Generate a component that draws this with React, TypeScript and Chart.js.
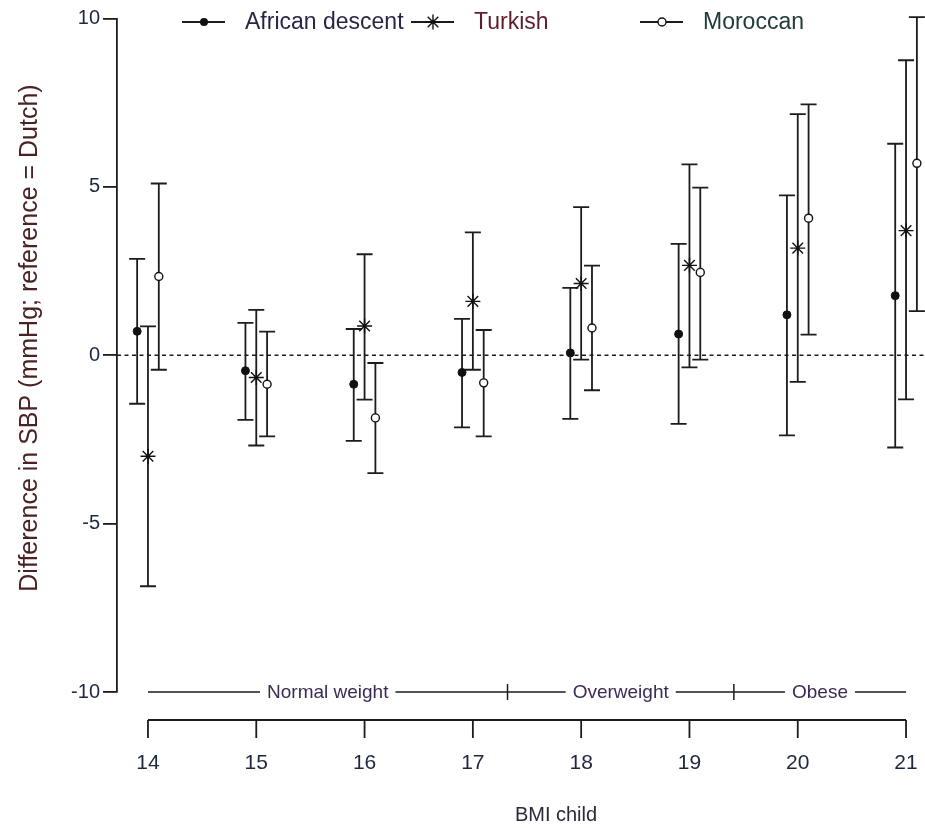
import { useEffect, useRef } from "react";
import { Chart, registerables } from "chart.js";

Chart.register(...registerables);

// ---- data ----
const bmi = [14, 15, 16, 17, 18, 19, 20, 21];
const groupNames = ["African descent", "Turkish", "Moroccan"];
const africanEst = [0.71, -0.46, -0.86, -0.51, 0.07, 0.63, 1.2, 1.77];
const africanLow = [-1.44, -1.92, -2.54, -2.14, -1.89, -2.04, -2.38, -2.74];
const africanHigh = [2.86, 0.96, 0.78, 1.08, 2.0, 3.31, 4.75, 6.28];
const turkishEst = [-3.0, -0.66, 0.87, 1.6, 2.13, 2.67, 3.18, 3.7];
const turkishLow = [-6.86, -2.68, -1.32, -0.43, -0.13, -0.36, -0.79, -1.31];
const turkishHigh = [0.86, 1.35, 3.0, 3.65, 4.4, 5.67, 7.16, 8.76];
const moroccanEst = [2.34, -0.86, -1.86, -0.82, 0.81, 2.46, 4.07, 5.7];
const moroccanLow = [-0.43, -2.41, -3.5, -2.41, -1.04, -0.13, 0.61, 1.31];
const moroccanHigh = [5.1, 0.7, -0.23, 0.75, 2.66, 4.98, 7.45, 10.04];
const dodge = [-0.1, 0, 0.1];
const yTicks = [-10, -5, 0, 5, 10];
const xTicks = [14, 15, 16, 17, 18, 19, 20, 21];
const bandLabels = ["Normal weight", "Overweight", "Obese"];
const bandEdges = [14, 17.32, 19.41, 21];
const xTitle = "BMI child";
const yTitle = "Difference in SBP (mmHg; reference = Dutch)";

const FONT = "'Liberation Sans', Arial, sans-serif";
const INK = "#1c1c1c";

const estimates = [africanEst, turkishEst, moroccanEst];
const lows = [africanLow, turkishLow, moroccanLow];
const highs = [africanHigh, turkishHigh, moroccanHigh];
const legendColors = ["#2c2446", "#5c1f2c", "#213a3c"];

function drawMarker(ctx: CanvasRenderingContext2D, kind: number, x: number, y: number) {
  ctx.save();
  ctx.strokeStyle = "#111";
  ctx.lineWidth = 1.4;
  if (kind === 0) {
    ctx.fillStyle = "#111";
    ctx.beginPath();
    ctx.arc(x, y, 4, 0, Math.PI * 2);
    ctx.fill();
  } else if (kind === 1) {
    const r = 7.5;
    ctx.beginPath();
    ctx.moveTo(x - r, y); ctx.lineTo(x + r, y);
    ctx.moveTo(x, y - r); ctx.lineTo(x, y + r);
    const d = r * Math.SQRT1_2;
    ctx.moveTo(x - d, y - d); ctx.lineTo(x + d, y + d);
    ctx.moveTo(x - d, y + d); ctx.lineTo(x + d, y - d);
    ctx.stroke();
  } else {
    ctx.fillStyle = "#fff";
    ctx.beginPath();
    ctx.arc(x, y, 4, 0, Math.PI * 2);
    ctx.fill();
    ctx.stroke();
  }
  ctx.restore();
}

const rPlot = {
  id: "rplot",
  beforeDatasetsDraw(chart: any) {
    const { ctx, chartArea } = chart;
    const x = chart.scales.x;
    const y = chart.scales.y;
    ctx.save();
    // reference zero line
    ctx.strokeStyle = INK;
    ctx.lineWidth = 1.6;
    ctx.setLineDash([4, 3.5]);
    const y0 = y.getPixelForValue(0);
    ctx.beginPath();
    ctx.moveTo(chartArea.left, y0);
    ctx.lineTo(chartArea.right, y0);
    ctx.stroke();
    ctx.setLineDash([]);

    // error bars
    ctx.lineWidth = 1.8;
    ctx.strokeStyle = INK;
    for (let s = 0; s < 3; s++) {
      for (let i = 0; i < bmi.length; i++) {
        const px = x.getPixelForValue(bmi[i] + dodge[s]);
        const pl = y.getPixelForValue(lows[s][i]);
        const ph = y.getPixelForValue(highs[s][i]);
        ctx.beginPath();
        ctx.moveTo(px, pl);
        ctx.lineTo(px, ph);
        ctx.moveTo(px - 8, pl);
        ctx.lineTo(px + 8, pl);
        ctx.moveTo(px - 8, ph);
        ctx.lineTo(px + 8, ph);
        ctx.stroke();
      }
    }

    // R-style x axis (line only over tick range)
    const ax = chartArea.bottom + 28;
    ctx.lineWidth = 1.8;
    ctx.beginPath();
    ctx.moveTo(x.getPixelForValue(xTicks[0]), ax);
    ctx.lineTo(x.getPixelForValue(xTicks[xTicks.length - 1]), ax);
    for (const t of xTicks) {
      const px = x.getPixelForValue(t);
      ctx.moveTo(px, ax);
      ctx.lineTo(px, ax + 18);
    }
    ctx.stroke();

    // weight band annotation at y = -10
    const by = y.getPixelForValue(-10);
    ctx.font = `19px ${FONT}`;
    ctx.textAlign = "center";
    ctx.textBaseline = "middle";
    ctx.lineWidth = 1.5;
    for (let b = 0; b < bandLabels.length; b++) {
      const a = x.getPixelForValue(bandEdges[b]);
      const e = x.getPixelForValue(bandEdges[b + 1]);
      const c = (a + e) / 2;
      const tw = ctx.measureText(bandLabels[b]).width;
      ctx.beginPath();
      ctx.moveTo(a, by);
      ctx.lineTo(c - tw / 2 - 7, by);
      ctx.moveTo(c + tw / 2 + 7, by);
      ctx.lineTo(e, by);
      if (b > 0) {
        ctx.moveTo(a, by - 8);
        ctx.lineTo(a, by + 8);
      }
      ctx.stroke();
      ctx.fillStyle = "#3b2a55";
      ctx.fillText(bandLabels[b], c, by + 1);
    }

    // legend
    const ly = 22;
    ctx.font = `23px ${FONT}`;
    ctx.textAlign = "left";
    ctx.textBaseline = "middle";
    for (let g = 0; g < groupNames.length; g++) {
      const x0 = 182 + g * 229;
      ctx.lineWidth = 1.8;
      ctx.beginPath();
      ctx.moveTo(x0, ly);
      ctx.lineTo(x0 + 43, ly);
      ctx.stroke();
      drawMarker(ctx, g, x0 + 22, ly);
      ctx.fillStyle = legendColors[g];
      ctx.fillText(groupNames[g], x0 + 63, ly + 1);
    }

    // x title (centred on R's wider plot region)
    ctx.font = `20px ${FONT}`;
    ctx.textAlign = "center";
    ctx.textBaseline = "middle";
    ctx.fillStyle = "#2a2a3a";
    ctx.fillText(xTitle, 556, 815);

    // y title
    ctx.save();
    ctx.translate(30, 338);
    ctx.rotate(-Math.PI / 2);
    ctx.font = `25px ${FONT}`;
    ctx.textAlign = "center";
    ctx.textBaseline = "middle";
    ctx.fillStyle = "#4a2226";
    ctx.fillText(yTitle, 0, 0);
    ctx.restore();

    ctx.restore();
  },
};

export default function App() {
  const ref = useRef<HTMLCanvasElement | null>(null);
  useEffect(() => {
    if (!ref.current) return;
    const mk = (s: number) => bmi.map((b, i) => ({ x: b + dodge[s], y: estimates[s][i] }));
    const chart = new Chart(ref.current, {
      type: "scatter",
      data: {
        datasets: [
          {
            label: groupNames[0],
            data: mk(0),
            pointStyle: "circle",
            pointRadius: 4,
            backgroundColor: "#111",
            borderColor: "#111",
            borderWidth: 1,
          },
          {
            label: groupNames[1],
            data: mk(1),
            pointStyle: "star",
            pointRadius: 7.5,
            backgroundColor: "#111",
            borderColor: "#111",
            borderWidth: 1.4,
          },
          {
            label: groupNames[2],
            data: mk(2),
            pointStyle: "circle",
            pointRadius: 4,
            backgroundColor: "#fff",
            borderColor: "#111",
            borderWidth: 1.4,
          },
        ],
      },
      options: {
        animation: false,
        responsive: true,
        maintainAspectRatio: false,
        events: [],
        clip: false as any,
        layout: { autoPadding: false, padding: { top: 18.5, left: 0, right: 0, bottom: 0 } },
        plugins: { legend: { display: false }, tooltip: { enabled: false }, title: { display: false } },
        scales: {
          x: {
            type: "linear",
            min: 13.714,
            max: 21.175,
            afterBuildTicks: (s: any) => {
              s.ticks = xTicks.map((v) => ({ value: v }));
            },
            afterFit: (s: any) => {
              s.height = 136;
              s.paddingLeft = 0;
              s.paddingRight = 0;
            },
            border: { display: false },
            grid: { display: false, drawTicks: false },
            ticks: {
              font: { family: FONT, size: 21 },
              color: "#1e2640",
              padding: 59,
              maxRotation: 0,
              autoSkip: false,
            },
          },
          y: {
            min: -10,
            max: 10,
            afterBuildTicks: (s: any) => {
              s.ticks = yTicks.map((v) => ({ value: v }));
            },
            afterFit: (s: any) => {
              s.width = 117;
              s.paddingTop = 0;
              s.paddingBottom = 0;
            },
            border: { display: true, color: INK, width: 1.8 },
            grid: { drawOnChartArea: false, drawTicks: true, tickLength: 14, color: INK, lineWidth: 1.8 },
            ticks: { font: { family: FONT, size: 20 }, color: "#1e2640", padding: 3 },
          },
        },
      },
      plugins: [rPlot],
    });
    return () => chart.destroy();
  }, []);
  return (
    <div style={{ position: "absolute", left: 0, top: 0, width: 925, height: 828, background: "#fff" }}>
      <canvas ref={ref} />
    </div>
  );
}
